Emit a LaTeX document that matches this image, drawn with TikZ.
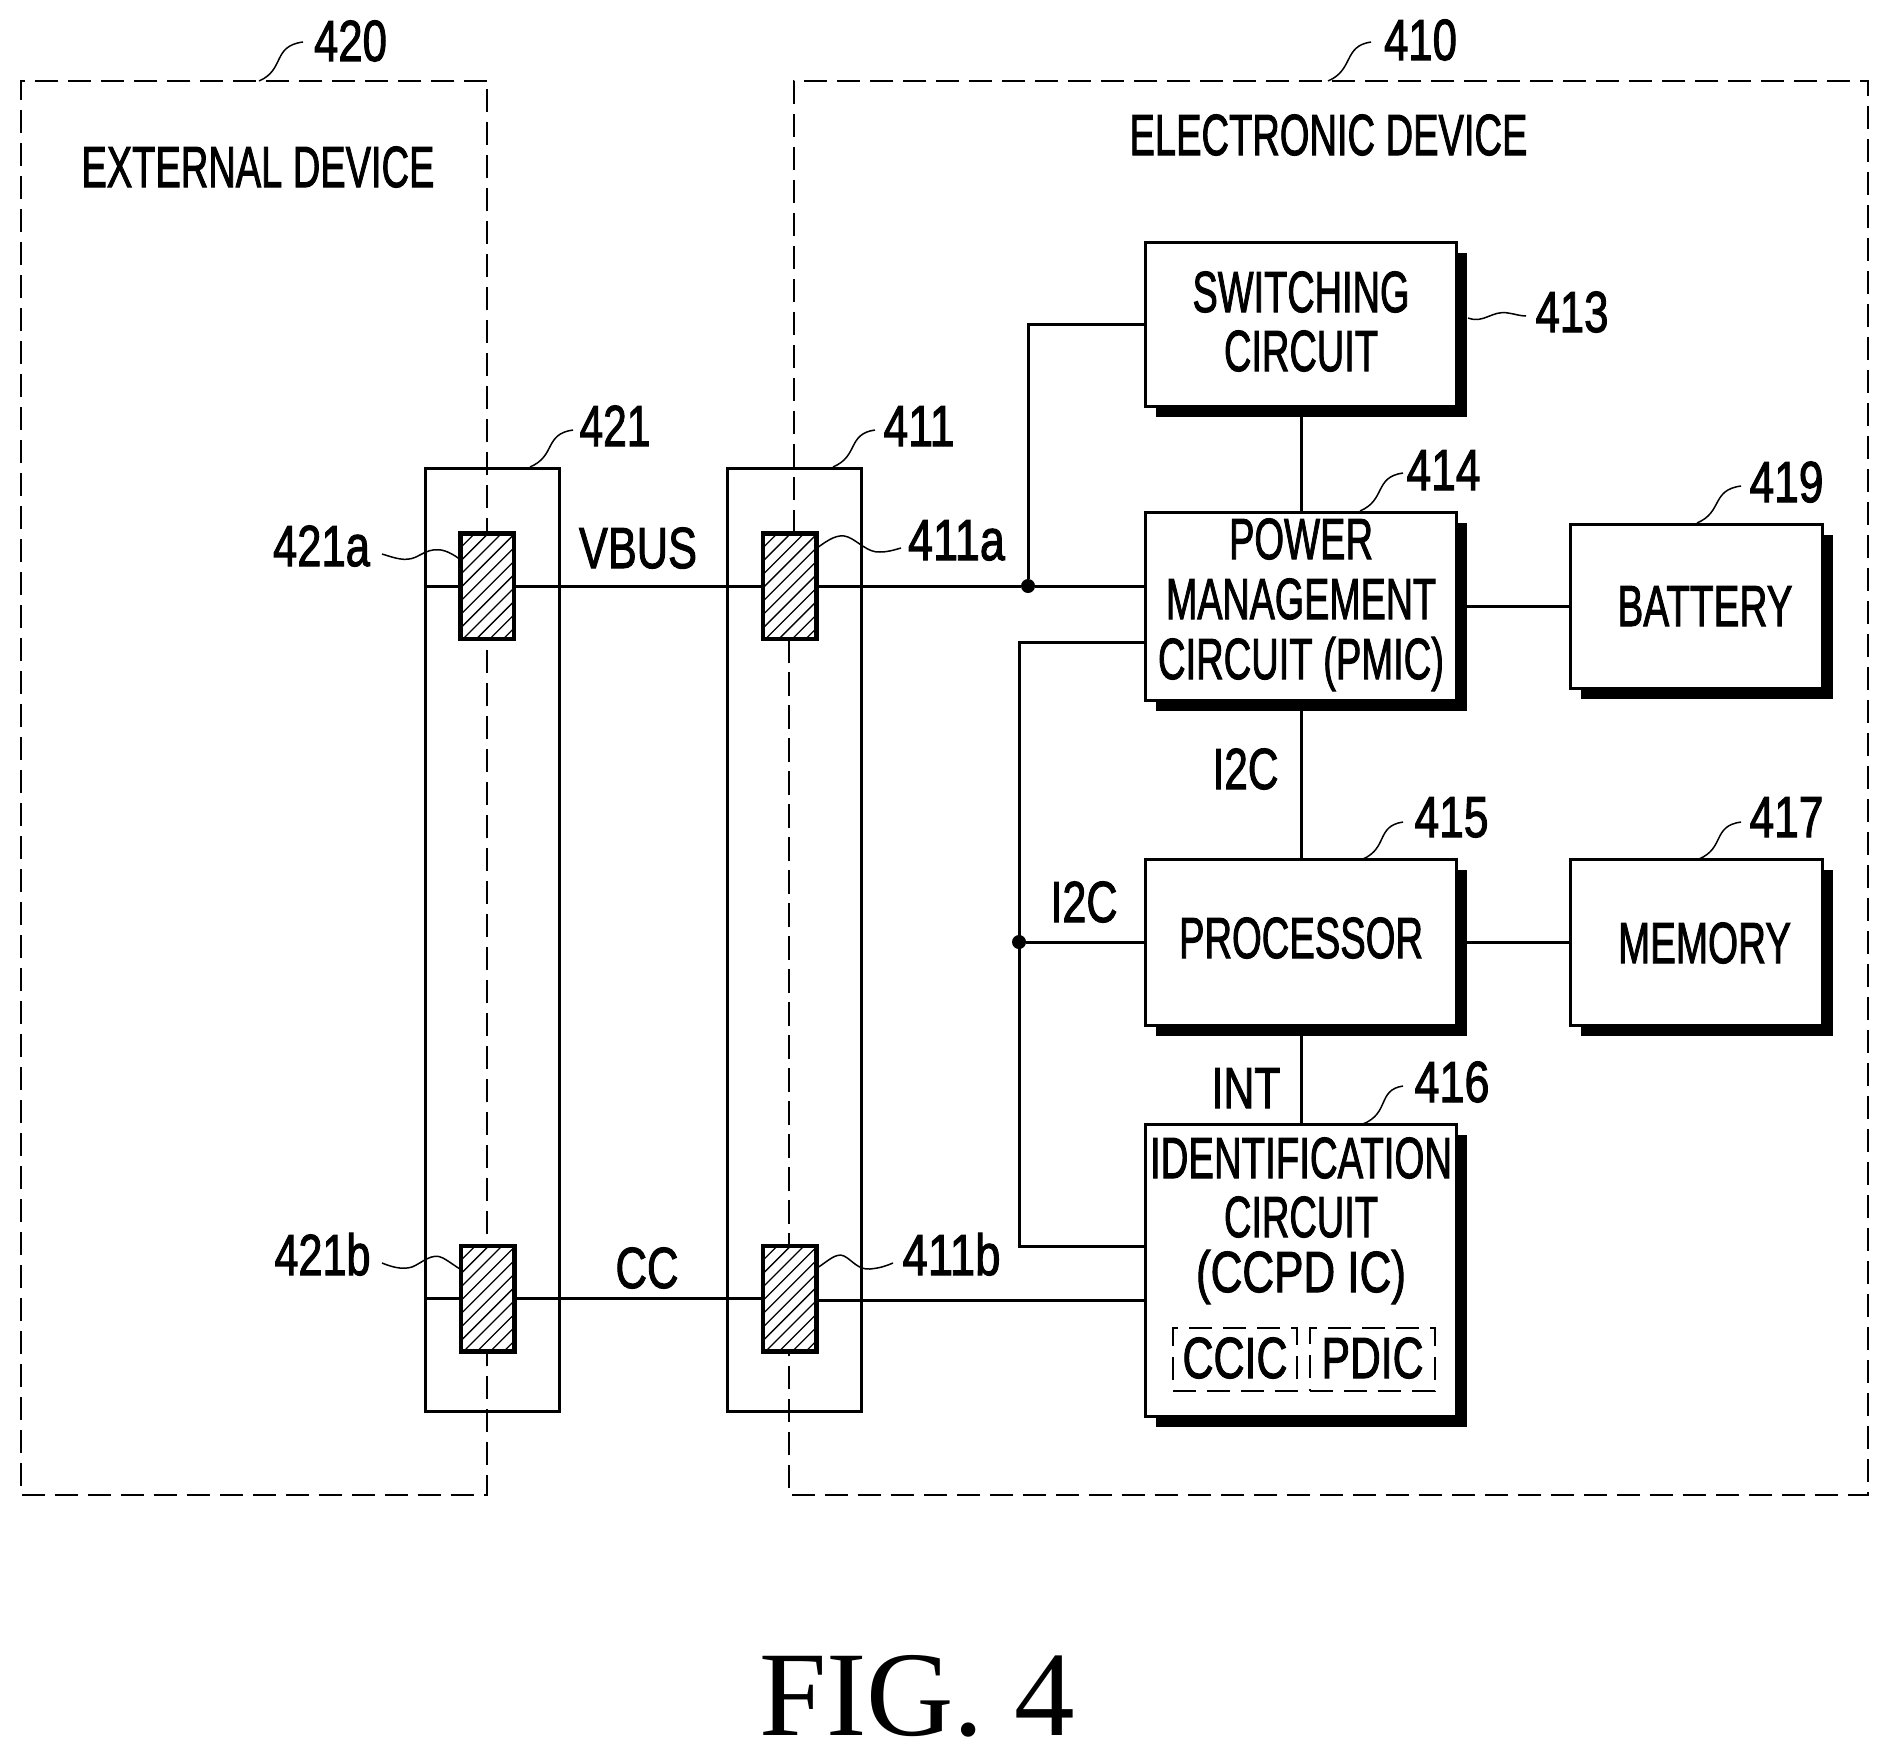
\documentclass[tikz,border=0pt]{standalone}
\usepackage{fontspec}
\usepackage{graphicx}
\usetikzlibrary{shadows,calc}
\newfontfamily\lblfont{Liberation Sans}[FakeBold=2]
\newfontfamily\figfont{Liberation Serif}
\newcommand\fitw[2]{\resizebox{\dimexpr#1pt+3pt\relax}{\height}{#2}}
\newcommand\tline[4]{\makebox[0pt][c]{\raisebox{#2pt}[0pt][0pt]{\hspace*{#1pt}\hspace*{#1pt}\fitw{#3}{#4}}}}
\tikzset{
  lbl/.style={inner sep=0pt,anchor=base,font=\lblfont\fontsize{58}{60}\selectfont},
  wire/.style={line width=3pt},
  frame/.style={line width=2.2pt,dash pattern=on 23pt off 10pt},
  inframe/.style={draw,line width=1.6pt,dash pattern=on 23pt off 11pt,inner sep=0pt,font=\lblfont\fontsize{58}{60}\selectfont},
  leader/.style={line width=1.5pt},
  blk/.style={draw,line width=3pt,fill=white,inner sep=0pt,font=\lblfont\fontsize{58}{60}\selectfont,
    general shadow={fill=black,shadow xshift=10.5pt,shadow yshift=-10.5pt}},
  conn/.style={draw,line width=3pt,fill=none,inner sep=0pt,minimum width=134pt,minimum height=943pt},
  contact/.style={draw,line width=3pt,fill=white,inner sep=0pt,minimum width=52pt,minimum height=104pt},
  hatch/.style={line width=1.3pt},
  dot/.style={circle,fill=black,inner sep=0pt,minimum size=14pt}
}
\begin{document}
\begin{tikzpicture}[x=1pt,y=-1pt]
\useasboundingbox (0,0) rectangle (1889,1758);
% dashed frames
\draw[frame] (487,81) -- (21,81) -- (21,1495) -- (487,1495) -- cycle;
\draw[frame] (794,533) -- (794,81) -- (1868,81) -- (1868,1495) -- (789,1495) -- (789,639);
\draw[frame] (789,639) -- (789,1245);
% connector housings
\node[conn] (b421) at (492,939.5) {};
\node[conn] (b411) at (794.5,939.5) {};
% blocks
\node[blk,minimum width=311pt,minimum height=164pt] (sw) at (1300.5,324)
  {\tline{0.5}{12}{214}{SWITCHING}\tline{0.5}{-47}{151}{CIRCUIT}};
\node[blk,minimum width=311pt,minimum height=188pt] (pm) at (1301,606)
  {\tline{0}{47}{141}{POWER}\tline{0}{-13}{267}{MANAGEMENT}\tline{0}{-73}{283}{CIRCUIT (PMIC)}};
\node[blk,minimum width=252pt,minimum height=164pt] (bat) at (1696,606)
  {\tline{9}{-20}{172}{BATTERY}};
\node[blk,minimum width=311pt,minimum height=166pt] (pr) at (1301,942)
  {\tline{0}{-16}{241}{PROCESSOR}};
\node[blk,minimum width=252pt,minimum height=166pt] (mem) at (1696,942)
  {\tline{8.5}{-21}{170}{MEMORY}};
\node[blk,minimum width=311pt,minimum height=292pt] (id) at (1301,1270)
  {\tline{0}{92}{299}{IDENTIFICATION}\tline{0}{33}{151}{CIRCUIT}\tline{0}{-22}{207}{(CCPD IC)}};
\node[inframe,minimum width=124pt,minimum height=63pt] (ccic) at (1235,1359.5)
  {\tline{0}{-18.5}{102}{CCIC}};
\node[inframe,minimum width=125pt,minimum height=63pt] (pdic) at (1372.5,1359.5)
  {\tline{0}{-18.5}{99}{PDIC}};
% junctions
\node[dot] (j1) at (1028,586) {};
\node[dot] (j2) at (1019,942) {};
\coordinate (k1) at (1019,642);
\coordinate (k2) at (1019,1246);
\coordinate (swl) at (1028,324);
\coordinate (cca) at (0,1298);
\coordinate (ccb) at (0,1300);
% wires
\draw[wire] (b421.west |- j1) -- (j1) -- (j1 -| pm.west);
\draw[wire] (sw.west |- swl) -- (swl) -- (j1);
\draw[wire] (sw.south -| pm.north) -- (pm.north);
\draw[wire] (pm.south) -- (pr.north);
\draw[wire] (pr.south) -- (id.north);
\draw[wire] (pm.east) -- (bat.west);
\draw[wire] (pr.east) -- (mem.west);
\draw[wire] (k1 -| pm.west) -- (k1) -- (k2) -- (k2 -| id.west);
\draw[wire] (j2) -- (pr.west);
\draw[wire] (b421.west |- cca) -- (b411.center |- cca);
\draw[wire] (b411.center |- ccb) -- (id.west |- ccb);
% contacts
\node[contact] (c21a) at (487,586) {};
\node[contact] (c11a) at (789.5,586) {};
\node[contact] (c21b) at (487.5,1298.5) {};
\node[contact] (c11b) at (789.5,1298.5) {};
\foreach \c in {c21a,c11a,c21b,c11b}{
  \begin{scope}
    \clip (\c.south west) rectangle (\c.north east);
    \foreach \k in {-8,...,4}{
      \draw[hatch] ($(\c.south west)+(\k*13.4-1,4)$) -- ++(170,-170);
    }
  \end{scope}
  \draw[line width=3pt] (\c.south west) rectangle (\c.north east);
}
% reference numerals
\node[lbl] (n420) at (350.5,61) {\fitw{70}{420}};
\node[lbl] (n410) at (1420.5,60) {\fitw{70}{410}};
\node[lbl] (next) at (258,187) {\fitw{350}{EXTERNAL DEVICE}};
\node[lbl] (nele) at (1328.5,155) {\fitw{395}{ELECTRONIC DEVICE}};
\node[lbl] (n413) at (1572,332) {\fitw{70}{413}};
\node[lbl] (n414) at (1443.5,490) {\fitw{71}{414}};
\node[lbl] (n419) at (1786.5,502) {\fitw{71}{419}};
\node[lbl] (n415) at (1451.5,837) {\fitw{71}{415}};
\node[lbl] (n417) at (1786.5,837) {\fitw{71}{417}};
\node[lbl] (n416) at (1452,1102) {\fitw{72}{416}};
\node[lbl] (n421) at (615,446) {\fitw{68}{421}};
\node[lbl] (n411) at (919,446) {\fitw{68}{411}};
\node[lbl] (n421a) at (321.5,566) {\fitw{94}{421a}};
\node[lbl] (n411a) at (956.5,560) {\fitw{94}{411a}};
\node[lbl] (n421b) at (322.5,1275) {\fitw{93}{421b}};
\node[lbl] (n411b) at (951.5,1275) {\fitw{95}{411b}};
\node[lbl] (vbus) at (638,568) {\fitw{115}{VBUS}};
\node[lbl] (cc) at (647,1288) {\fitw{60}{CC}};
\node[lbl] (i2ca) at (1245.5,789) {\fitw{63}{I2C}};
\node[lbl] (i2cb) at (1084,922) {\fitw{64}{I2C}};
\node[lbl] (int) at (1246,1108) {\fitw{66}{INT}};
% leaders
\coordinate (s420) at (259,81);
\coordinate (l420) at (303,42);
\draw[leader] (s420) .. controls (285,70) and (272,46) .. (l420);
\coordinate (l410) at (1371,42);
\coordinate (s410) at (1328,81);
\draw[leader] (s410) .. controls (1354,70) and (1343,46) .. (l410);
\coordinate (s413) at (1468,318);
\coordinate (l413) at (1526,316);
\draw[leader] (s413) .. controls (1484,324) and (1492,310) .. (1508,313) .. controls (1515,314) and (1520,316) .. (l413);
\coordinate (s414) at (1360,511);
\coordinate (l414) at (1403,473);
\draw[leader] (s414) .. controls (1386,500) and (1374,477) .. (l414);
\coordinate (s419) at (1697,523);
\coordinate (l419) at (1741,486);
\draw[leader] (s419) .. controls (1723,512) and (1711,490) .. (l419);
\coordinate (s415) at (1363,859);
\coordinate (l415) at (1403,822);
\draw[leader] (s415) .. controls (1388,848) and (1376,826) .. (l415);
\coordinate (s417) at (1699,859);
\coordinate (l417) at (1741,822);
\draw[leader] (s417) .. controls (1725,848) and (1712,826) .. (l417);
\coordinate (s416) at (1363,1124);
\coordinate (l416) at (1403,1086);
\draw[leader] (s416) .. controls (1390,1113) and (1377,1090) .. (l416);
\coordinate (s421) at (530,467);
\coordinate (l421) at (573,430);
\draw[leader] (s421) .. controls (556,456) and (544,434) .. (l421);
\coordinate (s411) at (833,467);
\coordinate (l411) at (875,430);
\draw[leader] (s411) .. controls (859,456) and (847,434) .. (l411);
\coordinate (l21a) at (382,554);
\draw[leader] (l21a) .. controls (395,558) and (405,562) .. (416,557) .. controls (428,551) and (438,543) .. (c21a.west |- 0,559);
\coordinate (l11a) at (901,548);
\draw[leader] (c11a.east |- 0,548) .. controls (828,540) and (838,533) .. (848,537) .. controls (858,541) and (868,553) .. (880,552) .. controls (888,552) and (894,550) .. (l11a);
\coordinate (l21b) at (382,1263);
\draw[leader] (l21b) .. controls (392,1267) and (402,1270) .. (412,1267) .. controls (422,1263) and (432,1252) .. (443,1258) .. controls (450,1262) and (455,1266) .. (c21b.west |- 0,1269);
\coordinate (l11b) at (893,1263);
\draw[leader] (c11b.east |- 0,1268) .. controls (827,1262) and (836,1252) .. (844,1256) .. controls (852,1260) and (858,1270) .. (870,1269) .. controls (880,1268) and (886,1266) .. (l11b);
% caption
\node[inner sep=0pt,anchor=base,font=\figfont\fontsize{121}{125}\selectfont] (fig) at (917,1735) {FIG. 4};
\end{tikzpicture}
\end{document}
